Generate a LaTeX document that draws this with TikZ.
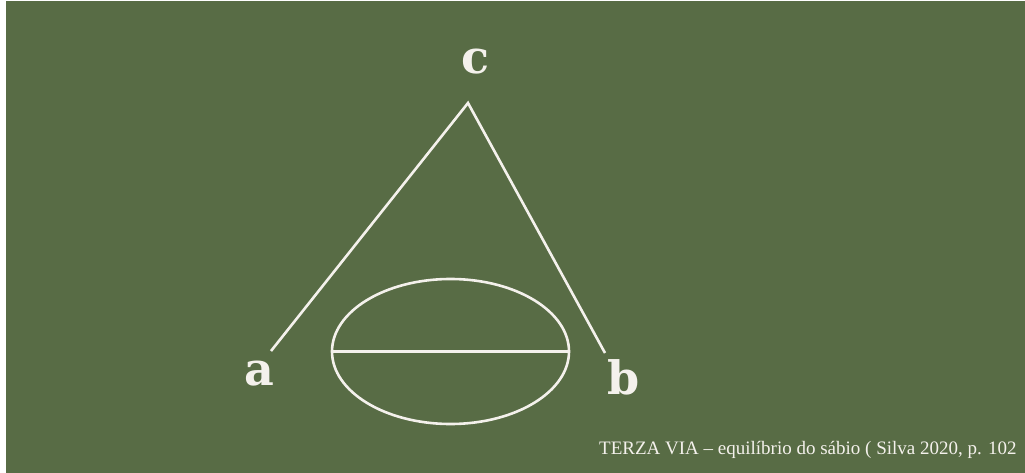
\documentclass[tikz,border=0pt]{standalone}
\usepackage{fontspec}
\usetikzlibrary{shapes.geometric}
\setmainfont{Liberation Serif}
\newfontfamily\labelfont{DejaVu Serif}
\definecolor{board}{HTML}{586C45}
\definecolor{chalk}{HTML}{F4F1EC}
\begin{document}
\begin{tikzpicture}[x=1pt,y=-1pt,
  chalkline/.style={draw=chalk,line width=2.6pt},
  vertexlabel/.style={text=chalk,font=\labelfont\bfseries\fontsize{46}{46}\selectfont,inner sep=0pt,anchor=center},
  caption/.style={text=chalk,font=\fontsize{19}{19}\selectfont,inner sep=0pt,anchor=base west}]
\useasboundingbox (0,0) rectangle (1025,473);
\fill[white] (0,0) rectangle (1025,473);
\fill[board] (6,1) rectangle (1025,473);
\coordinate (apex) at (468,103);
\coordinate (aend) at (271,351);
\coordinate (bend) at (605,353);
\node[vertexlabel] (c) at (475,62) {c};
\node[vertexlabel] (a) at (259,374) {a};
\node[vertexlabel] (b) at (624,377) {b};
\draw[chalkline] (aend) -- (apex) -- (bend);
\node[chalkline,ellipse,minimum width=237pt,minimum height=145pt,inner sep=0pt] (ell) at (450.5,351.5) {};
\draw[chalkline] (ell.west) -- (ell.east);
\node[caption] (cap) at (599,454) {TERZA VIA – equilíbrio do sábio ( Silva 2020, p. 102};
\end{tikzpicture}
\end{document}
